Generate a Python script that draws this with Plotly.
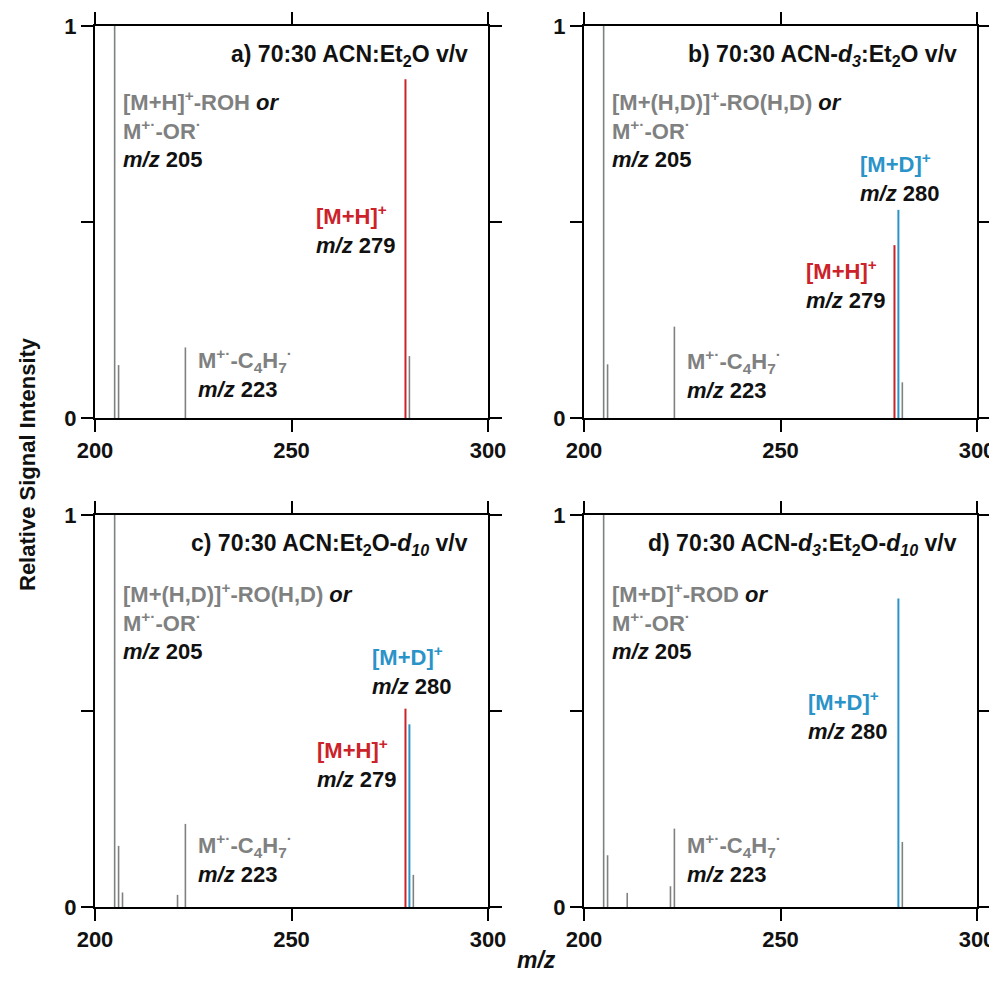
import plotly.graph_objects as go

# ---- data (m/z, relative intensity) ----
a_gray_mz = [205, 206, 223, 280]
a_gray_int = [1.0, 0.135, 0.18, 0.158]
a_red_mz = [279]
a_red_int = [0.864]
a_blue_mz = []
a_blue_int = []

b_gray_mz = [205, 206, 223, 281]
b_gray_int = [1.0, 0.137, 0.233, 0.091]
b_red_mz = [279]
b_red_int = [0.441]
b_blue_mz = [280]
b_blue_int = [0.531]

c_gray_mz = [205, 206, 207, 221, 223, 281]
c_gray_int = [1.0, 0.156, 0.037, 0.031, 0.212, 0.082]
c_red_mz = [279]
c_red_int = [0.506]
c_blue_mz = [280]
c_blue_int = [0.466]

d_gray_mz = [205, 206, 211, 222, 223, 281]
d_gray_int = [1.0, 0.132, 0.036, 0.053, 0.2, 0.166]
d_red_mz = []
d_red_int = []
d_blue_mz = [280]
d_blue_int = [0.787]

x_ticks = [200, 250, 300]
y_ticks = [0, 0.5, 1]
y_ticktext = ["0", "", "1"]

GRAY = "#7f8181"
RED = "#cc2229"
BLUE = "#2a93c8"
BLACK = "#111111"
FONT = "Liberation Sans, Arial, Helvetica, sans-serif"
FS = 22

panels = [
    ("x", "y", a_gray_mz, a_gray_int, a_red_mz, a_red_int, a_blue_mz, a_blue_int),
    ("x2", "y2", b_gray_mz, b_gray_int, b_red_mz, b_red_int, b_blue_mz, b_blue_int),
    ("x3", "y3", c_gray_mz, c_gray_int, c_red_mz, c_red_int, c_blue_mz, c_blue_int),
    ("x4", "y4", d_gray_mz, d_gray_int, d_red_mz, d_red_int, d_blue_mz, d_blue_int),
]


def sticks(mz, inten):
    xs, ys = [], []
    for m, v in zip(mz, inten):
        xs += [m, m, None]
        ys += [0, v, None]
    return xs, ys


fig = go.Figure()
for xa, ya, gm, gi, rm, ri, bm, bi in panels:
    for mz, inten, col, w in ((gm, gi, GRAY, 1.6), (rm, ri, RED, 2), (bm, bi, BLUE, 2)):
        if not mz:
            continue
        xs, ys = sticks(mz, inten)
        fig.add_trace(go.Scatter(x=xs, y=ys, xaxis=xa, yaxis=ya, mode="lines",
                                 line=dict(color=col, width=w), showlegend=False,
                                 hoverinfo="skip"))

# page body has an 8px margin, so the figure is placed at (8, 8)
W, H = 989, 967
dom_x = [[87 / W, 480 / W], [576 / W, 969 / W]]
dom_y = [[1 - 410 / H, 1 - 18 / H], [1 - 899 / H, 1 - 507 / H]]

axis_common = dict(showline=True, linecolor="black", linewidth=2, mirror="allticks",
                   ticks="outside", ticklen=12, tickwidth=2, tickcolor="black",
                   showgrid=False, zeroline=False, fixedrange=True, automargin=False,
                   tickfont=dict(family=FONT, size=FS, color=BLACK, weight="bold"))

layout = dict(
    width=W, height=H, plot_bgcolor="white", paper_bgcolor="white",
    margin=dict(l=0, r=0, t=0, b=0, autoexpand=False), showlegend=False,
)
names = [("xaxis", "yaxis", 0, 0), ("xaxis2", "yaxis2", 1, 0),
         ("xaxis3", "yaxis3", 0, 1), ("xaxis4", "yaxis4", 1, 1)]
for i, (xn, yn, cx, ry) in enumerate(names):
    suffix = "" if i == 0 else str(i + 1)
    layout[xn] = dict(axis_common, domain=dom_x[cx], range=[200, 300],
                      tickvals=x_ticks, anchor="y" + suffix)
    layout[yn] = dict(axis_common, domain=dom_y[ry], range=[0, 1],
                      tickvals=y_ticks, ticktext=y_ticktext, anchor="x" + suffix)
fig.update_layout(**layout)

blk = "<span style='color:%s'>" % BLACK
end = "</span>"
SUPRAD = "<sup>+·</sup>"

titles = [
    "a) 70:30 ACN:Et<sub>2</sub>O v/v",
    "b) 70:30 ACN-<i>d</i><sub><i>3</i></sub>:Et<sub>2</sub>O v/v",
    "c) 70:30 ACN:Et<sub>2</sub>O-<i>d</i><sub><i>10</i></sub> v/v",
    "d) 70:30 ACN-<i>d</i><sub><i>3</i></sub>:Et<sub>2</sub>O-<i>d</i><sub><i>10</i></sub> v/v",
]
frag205 = [
    "[M+H]<sup>+</sup>-ROH",
    "[M+(H,D)]<sup>+</sup>-RO(H,D)",
    "[M+(H,D)]<sup>+</sup>-RO(H,D)",
    "[M+D]<sup>+</sup>-ROD",
]
y205 = [0.737, 0.737, 0.729, 0.729]
yc4 = [0.113, 0.112, 0.124, 0.124]
red_lbl = [(255.8, 0.482), (255.9, 0.341), (256.0, 0.367), None]
blue_lbl = [None, (269.7, 0.613), (270.0, 0.603), (256.5, 0.488)]

anns = []
for i in range(4):
    suffix = "" if i == 0 else str(i + 1)
    xr, yr = "x" + suffix, "y" + suffix
    base = dict(xref=xr, yref=yr, showarrow=False, align="left", xanchor="left",
                yanchor="middle", font=dict(family=FONT, size=FS, weight="bold", color=GRAY))
    anns.append(dict(base, x=295.5, y=0.926, xanchor="right", align="right", text=titles[i],
                     font=dict(family=FONT, size=FS + 1, weight="bold", color=BLACK)))
    anns.append(dict(base, x=206.6, y=y205[i],
                     text=frag205[i] + " " + blk + "<i>or</i>" + end + "<br>M" + SUPRAD +
                     "-OR<sup>·</sup><br>" + blk + "<i>m/z</i> 205" + end))
    anns.append(dict(base, x=225.8, y=yc4[i],
                     text="M" + SUPRAD + "-C<sub>4</sub>H<sub>7</sub><sup>·</sup><br>" +
                     blk + "<i>m/z</i> 223" + end))
    if red_lbl[i]:
        anns.append(dict(base, x=red_lbl[i][0], y=red_lbl[i][1],
                         text="<span style='color:%s'>[M+H]<sup>+</sup></span><br>" % RED +
                         blk + "<i>m/z</i> 279" + end))
    if blue_lbl[i]:
        anns.append(dict(base, x=blue_lbl[i][0], y=blue_lbl[i][1],
                         text="<span style='color:%s'>[M+D]<sup>+</sup></span><br>" % BLUE +
                         blk + "<i>m/z</i> 280" + end))

anns.append(dict(xref="paper", yref="paper", x=20 / W, y=1 - 456 / H, textangle=-90,
                 showarrow=False, xanchor="center", yanchor="middle",
                 text="Relative Signal Intensity",
                 font=dict(family=FONT, size=22, weight="bold", color=BLACK)))
anns.append(dict(xref="paper", yref="paper", x=528 / W, y=0, showarrow=False,
                 xanchor="center", yanchor="bottom",
                 text="<i>m/z</i>",
                 font=dict(family=FONT, size=23, weight="bold", color=BLACK)))
fig.update_layout(annotations=anns)

fig.write_html("out.html")
